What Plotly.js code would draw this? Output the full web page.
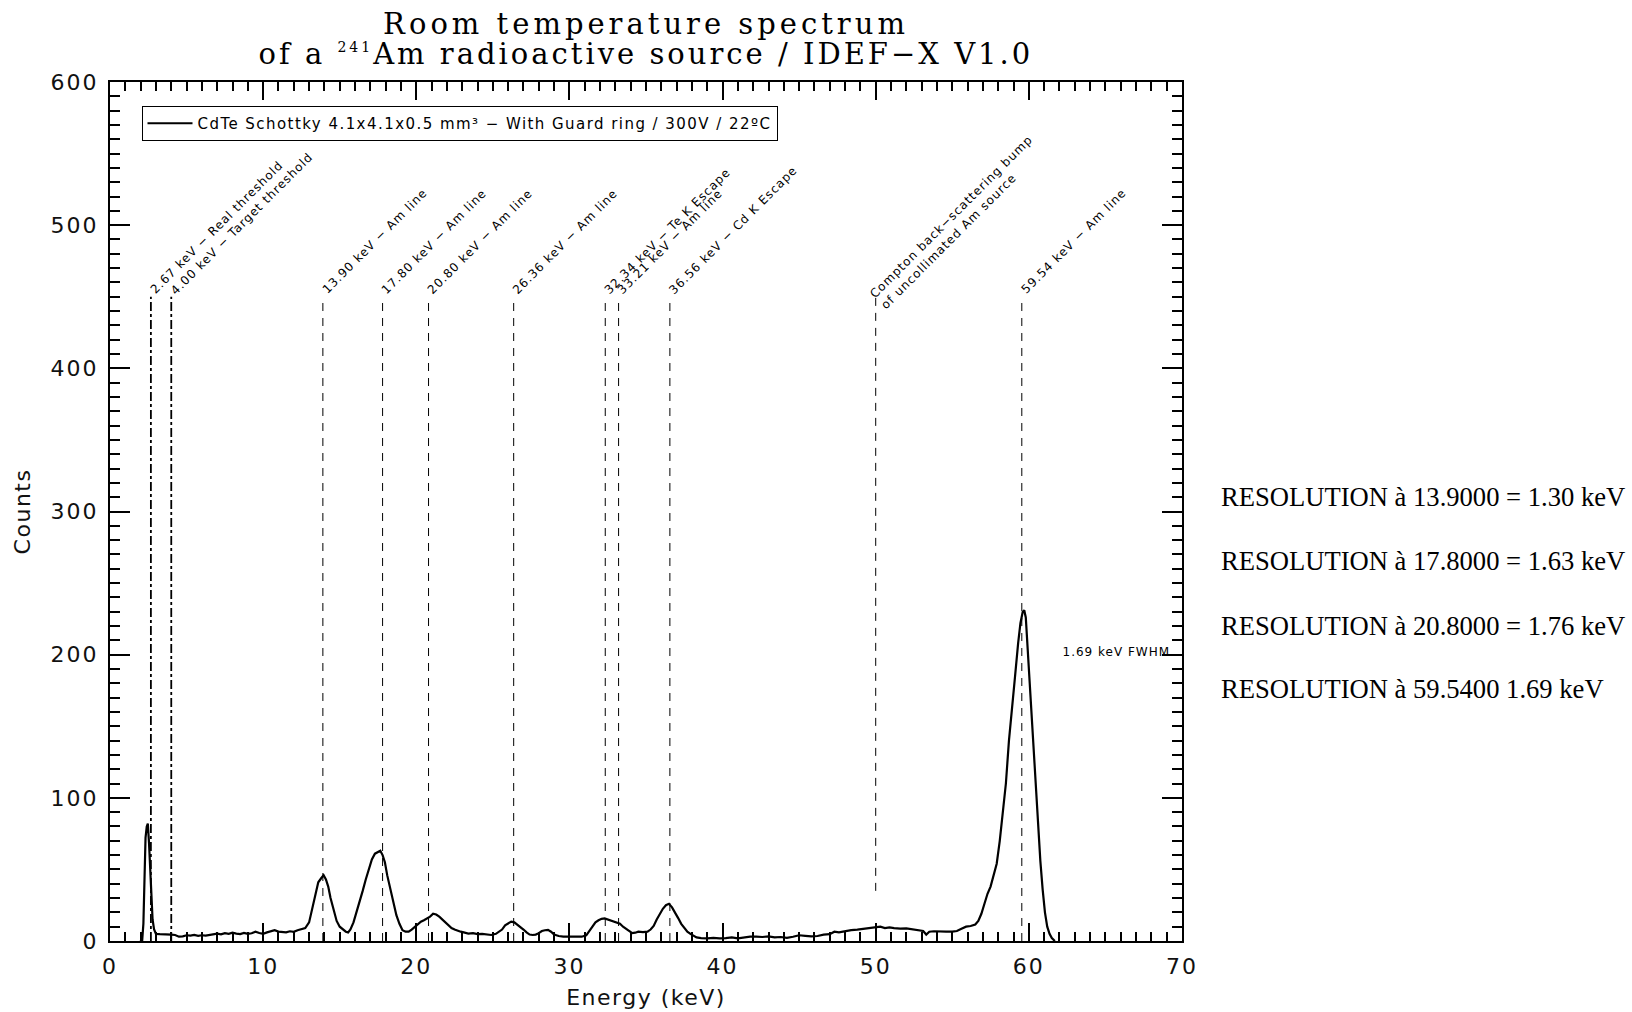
<!DOCTYPE html>
<html>
<head>
<meta charset="utf-8">
<script src="https://cdn.plot.ly/plotly-3.0.1.min.js"></script>
<style>
  body { margin: 0; background: #ffffff; }
  #chart { width: 1632px; height: 1012px; }
  .gtitle { letter-spacing: 4px; }
  .xtick text, .ytick text { letter-spacing: 2px; }
  .xtitle, .ytitle { letter-spacing: 1.5px; }
  .legendtext { letter-spacing: 1.45px; }
  .annotation text { letter-spacing: 1px; }
  .annotation[data-index="0"] text { letter-spacing: 3px; }
  .annotation[data-index="13"] text, .annotation[data-index="14"] text,
  .annotation[data-index="15"] text, .annotation[data-index="16"] text { letter-spacing: 0px; }
</style>
</head>
<body>
<div id="chart"></div>
<script>
// ---- Spectrum data (energy in keV, counts) ----
const energy = [
  1.95, 2.10, 2.18, 2.25, 2.32, 2.40, 2.47, 2.55, 2.62, 2.70, 2.78, 2.88, 3.00,
  3.25, 3.5, 3.75, 4.0, 4.25, 4.5, 4.75, 5.0, 5.25, 5.5, 5.75, 6.0, 6.25, 6.5, 6.75,
  7.0, 7.25, 7.5, 7.75, 8.0, 8.25, 8.5, 8.75, 9.0, 9.25, 9.5, 9.75, 10.0, 10.25, 10.5,
  10.75, 11.0, 11.25, 11.5, 11.75, 12.0, 12.25, 12.5, 12.75,
  13.0, 13.2, 13.4, 13.6, 13.8, 13.95, 14.1, 14.25, 14.4, 14.6, 14.8, 15.0, 15.2, 15.4,
  15.55, 15.7, 15.9, 16.1, 16.3, 16.5, 16.7, 16.9, 17.1, 17.3, 17.5, 17.65, 17.8, 17.95,
  18.1, 18.3, 18.5, 18.7, 18.9, 19.1, 19.3, 19.5, 19.7, 19.9, 20.1, 20.3, 20.5, 20.7,
  20.9, 21.1, 21.3, 21.5, 21.7, 21.9, 22.1, 22.3, 22.5, 22.7, 22.9, 23.1, 23.4, 23.7,
  24.0, 24.3, 24.6, 24.9, 25.2, 25.4, 25.6, 25.8, 26.0, 26.2, 26.4, 26.6, 26.8, 27.0,
  27.2, 27.4, 27.6, 27.8, 28.0, 28.2, 28.4, 28.6, 28.8, 29.0, 29.3, 29.6, 30.0, 30.4,
  30.8, 31.1, 31.3, 31.5, 31.7, 31.9, 32.1, 32.3, 32.5, 32.7, 32.9, 33.1, 33.3, 33.5,
  33.7, 33.9, 34.1, 34.3, 34.5, 34.8, 35.1, 35.3, 35.5, 35.7, 35.9, 36.1, 36.3, 36.5,
  36.7, 36.9, 37.1, 37.3, 37.5, 37.7, 37.9, 38.1, 38.3, 38.6, 39.0, 39.4, 39.8, 40.2,
  40.6, 41.0, 41.4, 41.8, 42.2, 42.6, 43.0, 43.4, 43.8, 44.2, 44.6, 45.0, 45.4, 45.8,
  46.2, 46.6, 47.0, 47.3, 47.6, 48.0, 48.4, 48.8, 49.2, 49.6, 50.0, 50.3, 50.6, 50.9,
  51.2, 51.6, 52.0, 52.4, 52.8, 53.1, 53.3, 53.5, 53.8, 54.2, 54.6, 55.0, 55.3, 55.6,
  55.9, 56.2, 56.5, 56.7, 56.9, 57.1, 57.3, 57.5, 57.7, 57.9, 58.1, 58.3, 58.5, 58.7,
  58.9, 59.1, 59.3, 59.45, 59.6, 59.7, 59.8, 59.9, 60.0, 60.15, 60.3, 60.45, 60.6,
  60.75, 60.9, 61.05, 61.2, 61.35, 61.5, 61.7
];
const counts = [
  0, 0, 12, 45, 72, 80, 82, 68, 48, 28, 15, 8, 5,
  4.8, 4.5, 4.6, 4.4, 4.2, 3, 3.2, 4.0, 3.8, 4.2, 3.6, 4.0, 3.8, 4.3, 4.5,
  5.2, 4.6, 5.5, 5.0, 5.8, 5.2, 4.8, 5.6, 5.0, 5.4, 6.5, 5.6, 5.0, 6.0, 6.8,
  7.5, 6.6, 6.2, 6.0, 6.8, 6.4, 7.5, 8.2, 9.0,
  13, 22, 33, 41, 44, 46, 43, 38, 30, 21, 14, 10, 8, 6.5,
  6, 8, 13, 20, 27, 35, 43, 50, 57, 61, 62, 63, 60, 55,
  46, 36, 26, 18, 12, 7.5, 6.5, 6.5, 8, 10, 12, 13.5, 14.5, 15.5,
  17, 19, 18.5, 17, 15, 13, 11, 9, 8, 7, 6.5, 6, 5.2, 5.5,
  4.8, 5.0, 4.5, 4.2, 5.0, 6.5, 8, 11, 12.5, 13.5, 13, 11.5, 10, 8,
  6, 4.5, 4.2, 4.5, 5.5, 7, 7.5, 7.8, 6.5, 4.5, 3.5, 3, 3, 3.2,
  3, 4, 7, 10, 13, 14.5, 15.5, 15.8, 15, 14, 13.5, 12.5, 12, 10,
  8.5, 7, 5.5, 5.8, 6.5, 6.2, 6.5, 8, 10.5, 15, 19, 22.5, 25, 26,
  23.5, 20, 16, 12, 9, 6.5, 5, 3.5, 2.5, 2, 1.8, 2.2, 1.8, 2,
  2.5, 1.8, 2.6, 3, 3, 2.8, 3.2, 2.5, 2.8, 2.2, 3, 4, 3.6, 3.2,
  3.5, 4.5, 4.8, 6.5, 6, 7, 7.6, 8, 8.5, 8.8, 9.5, 10, 9, 9.5,
  9, 8.6, 8.8, 8, 7.6, 7, 4.5, 6.5, 6.8, 6.5, 6.6, 6.5, 7, 8.5,
  10, 10.5, 11.5, 14, 19, 26, 33, 38, 46, 54, 70, 90, 110, 140,
  165, 185, 208, 222, 230, 231, 226, 208, 188, 163, 137, 110, 82,
  56, 36, 20, 10, 5, 2, 0
];

// ---- Marked lines (keV) and their labels ----
const thresholdEnergies = [2.67, 4.00];
const thresholdLabels = ["2.67 keV \u2212 Real threshold", "4.00 keV \u2212 Target threshold"];
const lineEnergies = [13.90, 17.80, 20.80, 26.36, 32.34, 33.21, 36.56, 59.54];
const lineLabels = [
  "13.90 keV \u2212 Am line", "17.80 keV \u2212 Am line", "20.80 keV \u2212 Am line",
  "26.36 keV \u2212 Am line", "32.34 keV \u2212 Te K Escape", "33.21 keV \u2212 Am line",
  "36.56 keV \u2212 Cd K Escape", "59.54 keV \u2212 Am line"
];
const comptonEnergy = 50.0;
const comptonLabel = "Compton back\u2212scattering bump<br>of uncollimated Am source";
const markerTopCount = 450;
const comptonBottomCount = 35;

const fwhmLabel = "1.69 keV FWHM";
const fwhmPos = [62.5, 202];

const resolutionLines = [
  "RESOLUTION \u00e0 13.9000 = 1.30 keV",
  "RESOLUTION \u00e0 17.8000 = 1.63 keV",
  "RESOLUTION \u00e0 20.8000 = 1.76 keV",
  "RESOLUTION \u00e0 59.5400 1.69 keV"
];

const legendName = "CdTe Schottky 4.1x4.1x0.5 mm\u00b3 \u2212 With Guard ring / 300V / 22\u00baC";
const titleLine1 = "Room temperature spectrum";
const titleLine2 = "of a <sup><span style=\"font-size:14px\">241</span></sup>Am radioactive source / IDEF\u2212X V1.0";

// ---- Build figure ----
const SANS = "DejaVu Sans";
const SERIF = "DejaVu Serif";

const trace = {
  type: "scatter", mode: "lines",
  x: energy, y: counts,
  name: legendName,
  line: { color: "#000000", width: 2.2 },
  showlegend: true
};

const shapes = [];
thresholdEnergies.forEach(e => shapes.push({
  type: "line", xref: "x", yref: "y", x0: e, x1: e, y0: 0, y1: markerTopCount,
  line: { color: "#000000", width: 1.8, dash: "dashdot" }
}));
lineEnergies.forEach(e => shapes.push({
  type: "line", xref: "x", yref: "y", x0: e, x1: e, y0: 0, y1: markerTopCount,
  line: { color: "#000000", width: 1, dash: "8px,7px" }
}));
shapes.push({
  type: "line", xref: "x", yref: "y", x0: comptonEnergy, x1: comptonEnergy,
  y0: comptonBottomCount, y1: markerTopCount,
  line: { color: "#000000", width: 1, dash: "8px,7px" }
});

const annotations = [];
// index 0: second title line
annotations.push({
  xref: "paper", yref: "paper", x: 0.5, y: (941 - 54) / 859,
  xanchor: "center", yanchor: "middle", showarrow: false,
  text: titleLine2, font: { family: SERIF, size: 29, color: "#000" }
});
const labelFont = { family: SANS, size: 12, color: "#000" };
function addLabel(e, txt, xs, ys) {
  annotations.push({
    xref: "x", yref: "y", x: e, y: markerTopCount,
    xanchor: "left", yanchor: "bottom", showarrow: false,
    textangle: -45, text: txt, font: labelFont, align: "left",
    xshift: xs, yshift: ys
  });
}
// indices 1..11
thresholdEnergies.forEach((e, i) => addLabel(e, thresholdLabels[i], -6, -3));
lineEnergies.forEach((e, i) => addLabel(e, lineLabels[i], -6, -3));
addLabel(comptonEnergy, comptonLabel, -11, -18);
// index 12
annotations.push({
  xref: "x", yref: "y", x: fwhmPos[0], y: fwhmPos[1],
  xanchor: "left", yanchor: "middle", showarrow: false,
  text: fwhmLabel, font: labelFont
});
// indices 13..16
const resY = [497.5, 561, 625.5, 689];
resolutionLines.forEach((t, i) => annotations.push({
  xref: "paper", yref: "paper", x: (1219 - 110) / 1072, y: (941 - resY[i]) / 859,
  xanchor: "left", yanchor: "middle", showarrow: false,
  text: t, font: { family: "Liberation Serif", size: 26.6, color: "#000" }
}));

const axisCommon = {
  showgrid: false, zeroline: false, showline: true, linecolor: "#000", linewidth: 2,
  mirror: "allticks", ticks: "inside", tickcolor: "#000", tickwidth: 1.5,
  tickfont: { family: SANS, size: 22, color: "#111" }
};

const layout = {
  width: 1632, height: 1012,
  paper_bgcolor: "#fff", plot_bgcolor: "#fff",
  margin: { l: 110, r: 450, t: 82, b: 71 },
  title: {
    text: titleLine1, font: { family: SERIF, size: 29, color: "#000" },
    x: 0.5, xref: "paper", y: 1 - 24 / 1012, yref: "container", yanchor: "middle"
  },
  xaxis: Object.assign({}, axisCommon, {
    range: [0, 70], dtick: 10, tick0: 0, ticklen: 18,
    minor: { dtick: 1, ticklen: 9, ticks: "inside", tickcolor: "#000", tickwidth: 1.5 },
    ticklabelstandoff: 5,
    title: { text: "Energy (keV)", font: { family: SANS, size: 22, color: "#111" }, standoff: 11 }
  }),
  yaxis: Object.assign({}, axisCommon, {
    range: [0, 600], dtick: 100, tick0: 0, ticklen: 20,
    minor: { dtick: 10, ticklen: 10, ticks: "inside", tickcolor: "#000", tickwidth: 1.5 },
    ticklabelstandoff: 5,
    title: { text: "Counts", font: { family: SANS, size: 22, color: "#111" }, standoff: 14 }
  }),
  showlegend: true,
  legend: {
    x: (141.5 - 110) / 1072, y: (941 - 106) / 859, xanchor: "left", yanchor: "top",
    bordercolor: "#000", borderwidth: 1, bgcolor: "#fff",
    itemwidth: 45,
    font: { family: SANS, size: 15, color: "#000" }
  },
  shapes: shapes,
  annotations: annotations
};

Plotly.newPlot("chart", [trace], layout, { displayModeBar: false });
</script>
</body>
</html>
